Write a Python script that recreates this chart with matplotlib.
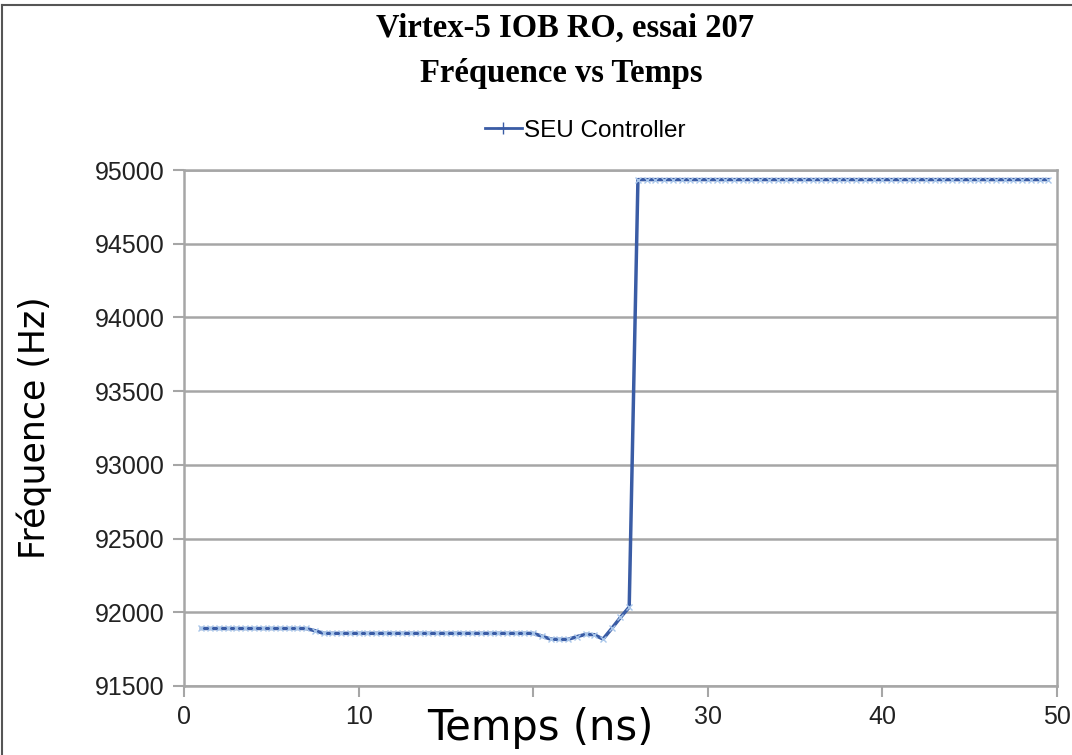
import matplotlib
matplotlib.use('Agg')
import matplotlib.pyplot as plt
from matplotlib.lines import Line2D

# time samples (ns)
temps = [1.0, 1.5, 2.0, 2.5, 3.0, 3.5, 4.0, 4.5, 5.0, 5.5, 6.0, 6.5, 7.0, 7.5,
         8.0, 8.5, 9.0, 9.5, 10.0, 10.5, 11.0, 11.5, 12.0, 12.5, 13.0, 13.5,
         14.0, 14.5, 15.0, 15.5, 16.0, 16.5, 17.0, 17.5, 18.0, 18.5, 19.0, 19.5,
         20.0, 20.5, 21.0, 21.5, 22.0, 22.5, 23.0, 23.5, 24.0, 24.5, 25.0, 25.5,
         26.0, 26.5, 27.0, 27.5, 28.0, 28.5, 29.0, 29.5, 30.0, 30.5, 31.0, 31.5,
         32.0, 32.5, 33.0, 33.5, 34.0, 34.5, 35.0, 35.5, 36.0, 36.5, 37.0, 37.5,
         38.0, 38.5, 39.0, 39.5, 40.0, 40.5, 41.0, 41.5, 42.0, 42.5, 43.0, 43.5,
         44.0, 44.5, 45.0, 45.5, 46.0, 46.5, 47.0, 47.5, 48.0, 48.5, 49.0, 49.5]

# frequency (Hz)
frequence = [91890, 91890, 91890, 91890, 91890, 91890, 91890, 91890, 91890, 91890,
             91890, 91890, 91890, 91875,
             91857, 91857, 91857, 91857, 91857, 91857, 91857, 91857, 91857, 91857,
             91857, 91857, 91857, 91857, 91857, 91857, 91857, 91857, 91857, 91857,
             91857, 91857, 91857, 91857, 91857,
             91838, 91818, 91816, 91816, 91835, 91850, 91848, 91818,
             91890, 91965, 92035,
             94935, 94935, 94935, 94935, 94935, 94935, 94935, 94935, 94935, 94935,
             94935, 94935, 94935, 94935, 94935, 94935, 94935, 94935, 94935, 94935,
             94935, 94935, 94935, 94935, 94935, 94935, 94935, 94935, 94935, 94935,
             94935, 94935, 94935, 94935, 94935, 94935, 94935, 94935, 94935, 94935,
             94935, 94935, 94935, 94935, 94935, 94935, 94935, 94935]

x_ticks = [0, 10, 20, 30, 40, 50]
# the "20" label is hidden under the axis title in the original
x_tick_labels = ['0', '10', '', '30', '40', '50']
y_ticks = [91500, 92000, 92500, 93000, 93500, 94000, 94500, 95000]

line_col = '#3a5ca5'
marker_col = '#a9c6ea'
grid_col = '#a6a6a6'

fig = plt.figure(figsize=(10.72, 7.55), dpi=100)
ax = fig.add_axes([0.1716, 0.0914, 0.8144, 0.6834])

ax.plot(temps, frequence, color=line_col, lw=2.5, marker='x', ms=5,
        mec=marker_col, mew=1.0, label='SEU Controller', zorder=3)

ax.set_xlim(0, 50)
ax.set_ylim(91500, 95000)
ax.set_xticks(x_ticks)
ax.set_xticklabels(x_tick_labels)
ax.set_yticks(y_ticks)
ax.yaxis.grid(True, color=grid_col, lw=1.8)
ax.set_axisbelow(True)
for s in ax.spines.values():
    s.set_color(grid_col)
    s.set_linewidth(1.8)
ax.tick_params(axis='both', direction='out', length=8, width=1.5, color=grid_col,
               labelsize=18, labelcolor='#222222', pad=6)
for lab in ax.get_xticklabels() + ax.get_yticklabels():
    lab.set_family('Liberation Sans')

ax.set_ylabel('Fréquence (Hz)', fontsize=25, family='DejaVu Sans')
ax.yaxis.set_label_coords(-0.151, 0.5)

fig.text(0.504, 0.036, 'Temps (ns)', fontsize=30, family='DejaVu Sans',
         ha='center', va='center')

fig.text(0.527, 0.962, 'Virtex-5 IOB RO, essai 207', fontsize=23.5, fontweight='bold',
         family='Liberation Serif', ha='center', va='center')
fig.text(0.524, 0.902, 'Fréquence vs Temps', fontsize=23.5, fontweight='bold',
         family='Liberation Serif', ha='center', va='center')

fig.legend(handles=[Line2D([0], [0], color=line_col, lw=2, marker='+', ms=9,
                           mec=line_col)],
           labels=['SEU Controller'], loc='center', bbox_to_anchor=(0.546, 0.827),
           frameon=False, prop={'family': 'Liberation Sans', 'size': 17.5},
           handlelength=1.5, handletextpad=0.1)

# outer frame (top and left edges visible)
fig.add_artist(Line2D([0.002, 1.0], [0.994, 0.994], color='#555555', lw=1.5))
fig.add_artist(Line2D([0.002, 0.002], [0.0, 0.994], color='#555555', lw=1.5))

fig.savefig('out.png', dpi=100)
